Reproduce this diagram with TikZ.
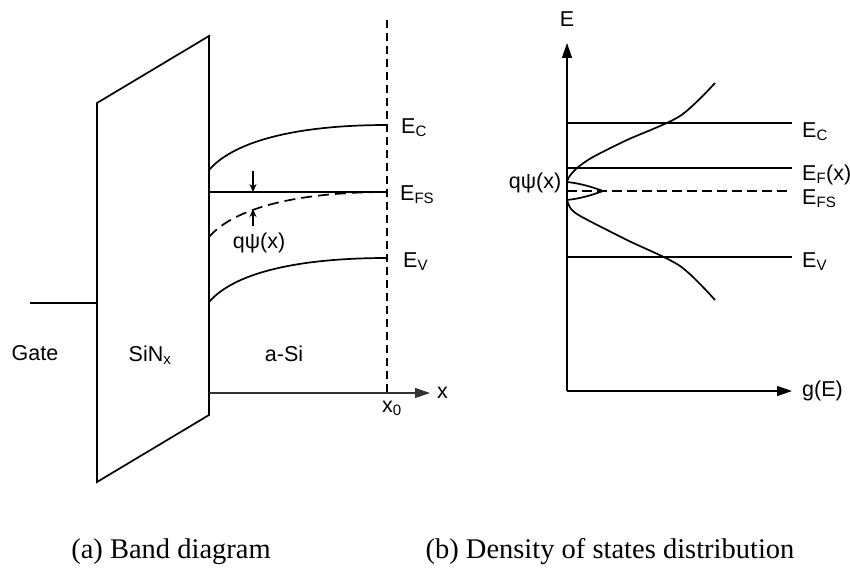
\documentclass[tikz,border=0pt]{standalone}
\usepackage{fontspec}
\setmainfont{Liberation Serif}
\setsansfont{Liberation Sans}
\usepackage{tikz}
\usetikzlibrary{positioning, arrows.meta}

\begin{document}
\begin{tikzpicture}[
  x=1pt, y=-1pt,
  bandline/.style={line width=1.7pt},
  fermidash/.style={line width=1.7pt, dash pattern=on 11pt off 6pt},
  edgedash/.style={line width=1.1pt, dash pattern=on 8pt off 5pt},
  axisflow/.style={line width=1.3pt, -{Triangle[length=15pt, width=10pt]}},
  tipflow/.style={line width=1.1pt, -{Stealth[length=8pt, width=7pt]}},
  sflabel/.style={font=\sffamily\fontsize{21.5}{24}\selectfont, inner sep=0pt},
  levellabel/.style={sflabel, anchor=base west},
  caplabel/.style={font=\rmfamily\fontsize{28.5}{32}\selectfont,
    inner sep=0pt, anchor=base},
]

% ── Page frame ───────────────────────────────────────────
\useasboundingbox (0,0) rectangle (850,567);

% ── Panel (a): Band diagram ─────────────────────────────
\def\xG{97}    % gate side of SiNx
\def\xI{209}   % SiNx / a-Si interface
\def\xO{387}   % x_0
\def\yAx{393}  % x axis

% Insulator and gate
\draw[bandline] (\xG,103) -- (\xI,36) -- (\xI,415) -- (\xG,482) -- cycle;
\coordinate (gL) at (30,303);
\coordinate (gR) at (\xG,303);
\draw[bandline] (gL) -- (gR);

% Axis and x_0 marker
\coordinate (oA) at (\xI,\yAx);
\coordinate (xEnd) at (430,\yAx);
\draw[axisflow, line width=1.1pt, black!80] (oA) -- (xEnd);
\draw[edgedash] (\xO,20) -- (\xO,\yAx);

% Bands
\draw[bandline] (\xI,170) .. controls +(26,-30) and +(-87,0) .. (\xO,125);
\draw[bandline] (\xI,192) -- (\xO,192);
\draw[fermidash] (\xI,237) .. controls +(26,-30) and +(-87,0) .. (\xO,192);
\draw[bandline] (\xI,302) .. controls +(26,-30) and +(-87,0) .. (\xO,258);

% Band bending arrows
\coordinate (dnTop) at (253,171);
\coordinate (dnTip) at (253,192);
\coordinate (upTail) at (253,226);
\coordinate (upTip) at (253,209);
\draw[tipflow] (dnTop) -- (dnTip);
\draw[tipflow] (upTail) -- (upTip);

\node[sflabel, anchor=base] (gate) at (35,360) {Gate};
\node[sflabel, anchor=base] (sinx) at (150,361) {SiN\textsubscript{x}};
\node[sflabel, anchor=base] (asi) at (284,361) {a-Si};
\node[sflabel, anchor=base] (qpsiA) at (259,248) {qψ(x)};
\node[levellabel] (ecA) at (401,133) {E\textsubscript{C}};
\node[levellabel] (efsA) at (400,200) {E\textsubscript{FS}};
\node[levellabel] (evA) at (403,267) {E\textsubscript{V}};
\node[sflabel, anchor=base] (x0) at (392,412) {x\textsubscript{0}};
\node[sflabel, right=7pt of xEnd] (xlab) {x};

% ── Panel (b): Density of states ────────────────────────
\def\xE{567}   % E axis
\def\yG{391}   % g(E) axis
\def\xR{792}   % right end of levels

\coordinate (oB) at (\xE,\yG);
\coordinate (eTop) at (\xE,43);
\coordinate (gEnd) at (\xR,\yG);
\draw[axisflow] (oB) -- (eTop);
\draw[axisflow] (oB) -- (gEnd);

% Levels
\draw[bandline] (\xE,123) -- (\xR,123);
\draw[bandline] (\xE,168) -- (\xR,168);
\draw[fermidash, dash pattern=on 10pt off 5pt] (\xE,191) -- (787,191);
\draw[bandline] (\xE,257) -- (\xR,257);

% Tail states and the deep peak
\draw[bandline] plot[smooth] coordinates {(715,83) (680,116) (627,140)
  (593,157) (577,168) (569,177) (567,182)};
\draw[bandline] (567,182) .. controls (585,184) and (597,189) .. (603,191)
  .. controls (597,193) and (585,198) .. (567,200);
\draw[bandline] plot[smooth] coordinates {(567,200) (571,209) (582,217)
  (627,240) (680,266) (715,300)};

\node[sflabel, above=16pt of eTop] (elab) {E};
\node[sflabel, right=10pt of gEnd] (glab) {g(E)};
\node[sflabel, anchor=base] (qpsiB) at (535,188) {qψ(x)};
\node[levellabel] (ecB) at (802,137) {E\textsubscript{C}};
\node[levellabel] (efB) at (802,180) {E\textsubscript{F}(x)};
\node[levellabel] (efsB) at (802,204) {E\textsubscript{FS}};
\node[levellabel] (evB) at (802,267) {E\textsubscript{V}};

% ── Captions ─────────────────────────────────────────────
\node[caplabel] (capA) at (171,558) {(a) Band diagram};
\node[caplabel] (capB) at (610,558) {(b) Density of states distribution};

\end{tikzpicture}
\end{document}
